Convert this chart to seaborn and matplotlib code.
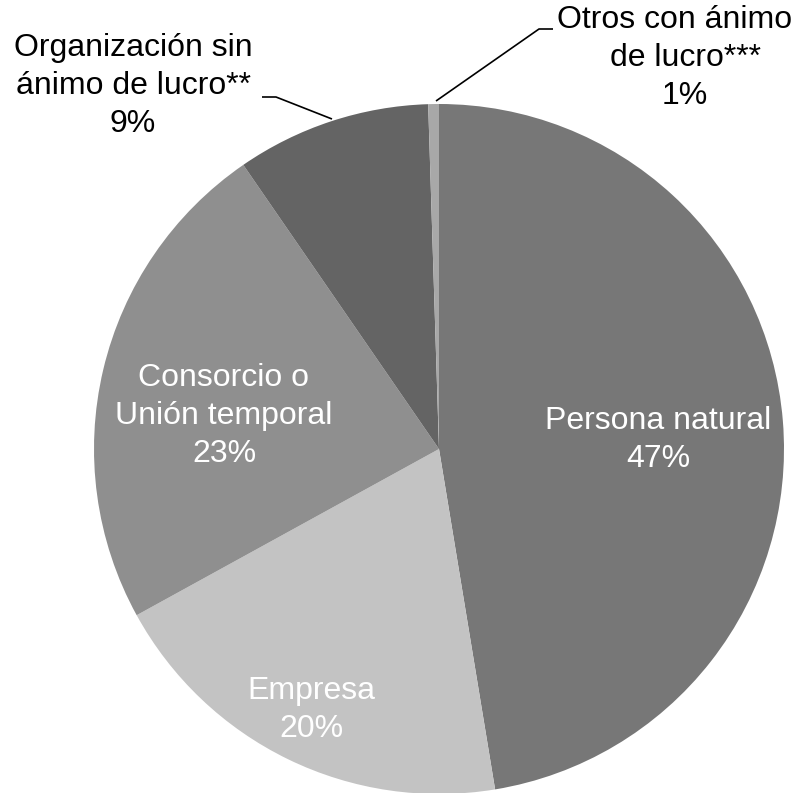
import math
import matplotlib
matplotlib.use("Agg")
import matplotlib.pyplot as plt
import seaborn as sns

# Share of proposals by type of proponent (%)
categories = [
    "Persona natural",
    "Empresa",
    "Consorcio o\nUnión temporal",
    "Organización sin\nánimo de lucro**",
    "Otros con ánimo\nde lucro***",
]
shares = [47.4, 19.6, 23.4, 9.1, 0.5]
slice_colors = ["#777777", "#c3c3c3", "#8f8f8f", "#646464", "#a8a8a8"]
text_colors = ["white", "white", "white", "black", "black"]

sns.set_theme(style="white")
plt.rcParams["font.family"] = ["Liberation Sans", "DejaVu Sans"]

W, H = 795, 793
fig = plt.figure(figsize=(W / 100, H / 100), dpi=100)
ax = fig.add_axes([0, 0, 1, 1])

cx, cy, r = 439, H - 449, 345
ax.pie(shares, colors=slice_colors, startangle=90, counterclock=False,
       center=(cx, cy), radius=r, wedgeprops=dict(linewidth=0))

ax.set_xlim(0, W)
ax.set_ylim(0, H)
ax.set_aspect("equal")
ax.axis("off")


def pct(v):
    return f"{int(math.floor(v + 0.5))}%"


LS = 38  # line step in pixels
# label anchor points (pixel coordinates of the block centre, y from top)
label_pos = [(658, 440), (311, 710), (224, 416), (133, 86), None]
for name, v, col, pos in zip(categories, shares, text_colors, label_pos):
    lines = name.split("\n") + [pct(v)]
    if pos is None:
        # top-right label hugs the right edge; first line shifted left
        xs = [675] + [685] * (len(lines) - 1)
        y0 = 20
    else:
        xs = [pos[0]] * len(lines)
        y0 = pos[1] - LS * (len(lines) - 1) / 2
    for i, (line, x) in enumerate(zip(lines, xs)):
        ax.text(x, H - (y0 + i * LS), line, ha="center", va="center",
                fontsize=23, color=col)

# leader lines for the small slices
ax.plot([262, 276, 332], [H - 97, H - 97, H - 119], color="black", lw=1.2,
        solid_capstyle="butt")
ax.plot([436, 539, 553], [H - 101, H - 29, H - 29], color="black", lw=1.2,
        solid_capstyle="butt")

fig.savefig("out.png", dpi=100, facecolor="white")
